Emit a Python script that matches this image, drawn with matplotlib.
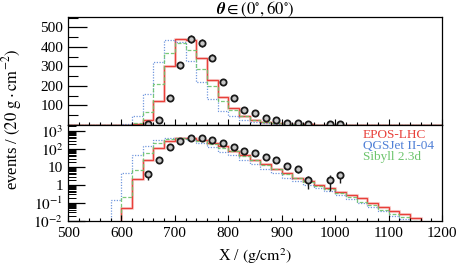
import numpy as np
import matplotlib
matplotlib.use("Agg")
import matplotlib.pyplot as plt
from matplotlib.ticker import MultipleLocator, LogLocator, FixedLocator, FixedFormatter, NullFormatter

plt.rcParams['font.family'] = ['Liberation Serif', 'DejaVu Serif']
plt.rcParams['mathtext.fontset'] = 'stix'
plt.rcParams['font.size'] = 10

# bins of 20 g/cm^2 from 500 to 1200
bin_lo = 500
bin_hi = 1200
bin_w = 20

epos = [0, 0, 0, 0, 0, 0.055, 2.2, 26, 124, 303, 438, 435, 341, 228, 143, 84,
        46, 26, 14.6, 8.4, 4.8, 2.6, 1.66, 1.07, 0.65, 0.43, 0.28, 0.18, 0.107,
        0.063, 0.036, 0.024, 0.015, 0, 0]
qgsjet = [0, 0, 0, 0, 0.15, 4.6, 46, 160, 324, 435, 426, 329, 221, 131, 72, 45,
          26, 14.6, 8.4, 4.8, 2.6, 1.66, 1.0, 0.65, 0.45, 0.28, 0.17, 0.1, 0.063,
          0.036, 0.02, 0.013, 0, 0, 0]
sibyll = [0, 0, 0, 0, 0, 0.22, 7.4, 65, 209, 367, 421, 384, 286, 199, 124, 76,
          43, 24, 13.5, 7.8, 4.4, 2.5, 1.5, 0.95, 0.58, 0.36, 0.21, 0.12, 0.075,
          0.04, 0.026, 0.017, 0.01, 0, 0]

data_x = [650, 670, 690, 710, 730, 750, 770, 790, 810, 830, 850, 870, 890, 910, 930, 950, 990, 1010]
data_y = [4, 25, 135, 305, 438, 418, 344, 219, 138, 76, 59, 35, 24, 11.5, 7.8, 2.0, 2.0, 3.5]
data_err = [2, 5, 11.6, 17.5, 21, 20.4, 18.5, 14.8, 11.7, 8.7, 7.7, 5.9, 4.9, 3.4, 2.8, 1.4, 1.5, 2.2]

models = ['EPOS-LHC', 'QGSJet II-04', 'Sibyll 2.3d']
colors = ['#e8403a', '#4f7fd6', '#6cc46c']

edges = np.arange(bin_lo, bin_hi + bin_w, bin_w)

fig = plt.figure(figsize=(4.57, 2.68), dpi=100)
ax1 = fig.add_axes([0.1488, 0.5343, 0.8184, 0.4011])
ax2 = fig.add_axes([0.1488, 0.1754, 0.8184, 0.3589])


def draw_models(ax):
    ax.stairs(epos, edges, color=colors[0], lw=2.2, alpha=0.2, baseline=None)
    ax.stairs(epos, edges, color=colors[0], lw=1.0, baseline=None)
    ax.stairs(qgsjet, edges, color=colors[1], lw=0.9, ls=(0, (1, 1.2)), alpha=0.8, baseline=None)
    ax.stairs(sibyll, edges, color=colors[2], lw=0.9, ls=(0, (3, 1.5)), alpha=0.9, baseline=None)
    ax.errorbar(data_x, data_y, yerr=data_err, fmt='o', ms=4.5, mfc='#c8c8c8',
                mec='#1a1a1a', mew=1.3, ecolor='#1a1a1a', elinewidth=1.0, capsize=0, zorder=5)


draw_models(ax1)
draw_models(ax2)

# top: linear
ax1.set_xlim(500, 1200)
ax1.set_ylim(0, 551)
ax1.set_yticks([100, 200, 300, 400, 500])
ax1.yaxis.set_minor_locator(MultipleLocator(50))
ax1.xaxis.set_major_locator(MultipleLocator(100))
ax1.xaxis.set_minor_locator(MultipleLocator(20))
ax1.tick_params(axis='x', which='both', labelbottom=False)
ax1.tick_params(axis='y', which='major', length=14, direction='in', width=0.9)
ax1.tick_params(axis='y', which='minor', length=7, direction='in', width=0.8)
ax1.tick_params(axis='x', which='major', length=4, direction='in', width=0.8)
ax1.tick_params(axis='x', which='minor', length=2.5, direction='in', width=0.8)

# bottom: log
ax2.set_yscale('log')
ax2.set_xlim(500, 1200)
ax2.set_ylim(1e-2, 2300)
ax2.yaxis.set_major_locator(FixedLocator([1e-2, 1e-1, 1, 10, 1e2, 1e3]))
ax2.yaxis.set_major_formatter(FixedFormatter([r'$10^{-2}$', r'$10^{-1}$', '1', '10', r'$10^{2}$', r'$10^{3}$']))
ax2.yaxis.set_minor_locator(LogLocator(base=10, subs=np.arange(2, 10), numticks=20))
ax2.yaxis.set_minor_formatter(NullFormatter())
ax2.xaxis.set_major_locator(MultipleLocator(100))
ax2.xaxis.set_minor_locator(MultipleLocator(20))
ax2.tick_params(axis='y', which='major', length=12, direction='in', width=0.9)
ax2.tick_params(axis='y', which='minor', length=6, direction='in', width=0.7)
ax2.tick_params(axis='x', which='major', length=4, direction='in', width=0.8, pad=4)
ax2.tick_params(axis='x', which='minor', length=2.5, direction='in', width=0.8)

for ax in (ax1, ax2):
    for s in ax.spines.values():
        s.set_linewidth(0.9)
    ax.tick_params(labelsize=11)

# legend as coloured text
for i, (name, c) in enumerate(zip(models, colors)):
    ax2.text(0.789, 0.897 - i * 0.115, name, color=c, fontsize=9.5, transform=ax2.transAxes,
             ha='left', va='center')

fig.text(0.558, 0.966, r'$\boldsymbol{\theta} \in (0^{\circ},60^{\circ})$', ha='center',
         va='center', fontsize=12)
fig.text(0.026, 0.555, r'events / $(20\ \mathrm{g \cdot cm^{-2}})$', rotation=90,
         ha='center', va='center', fontsize=12)
fig.text(0.558, 0.045, r'X / $(\mathrm{g/cm^{2}})$', ha='center', va='center', fontsize=11.5)

fig.savefig('out.png', dpi=100)
